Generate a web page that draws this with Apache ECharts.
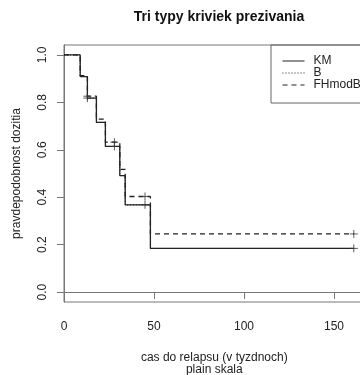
<!DOCTYPE html>
<html>
<head>
<meta charset="utf-8">
<script src="https://cdn.jsdelivr.net/npm/echarts@6/dist/echarts.min.js"></script>
<style>
html,body{margin:0;padding:0;background:#fff;}
#c{width:360px;height:375px;}
</style>
</head>
<body>
<div id="c"></div>
<script>
// Event times (weeks) and step values for each survival curve
const times = [0, 9, 13, 18, 23, 31, 34, 48, 161];
const kmVals = [1, 0.909, 0.818, 0.716, 0.614, 0.491, 0.368, 0.184, 0.184];
const bVals = [1, 0.909, 0.818, 0.716, 0.614, 0.491, 0.368, 0.184, 0.184];
const fhVals = [1, 0.913, 0.826, 0.729, 0.632, 0.517, 0.403, 0.245, 0.245];
// Censored times and curve values at those times
const censTimes = [13, 28, 45, 161];
const kmCens = [0.818, 0.614, 0.368, 0.184];
const fhCens = [0.826, 0.632, 0.403, 0.245];
// Tick labels
const xTicks = [0, 50, 100, 150];
const yTicks = [0, 0.2, 0.4, 0.6, 0.8, 1.0];

const FONT = 'Liberation Sans, Arial, sans-serif';
const pair = (xs, ys) => xs.map((x, i) => [x, ys[i]]);
const plus = 'path://M5,0L5,10M0,5L10,5';

const chart = echarts.init(document.getElementById('c'), null, {renderer: 'canvas'});
chart.setOption({
  animation: false,
  backgroundColor: '#fff',
  title: {
    text: 'Tri typy kriviek prezivania',
    left: 214, top: 5, textAlign: 'center',
    textStyle: {fontFamily: FONT, fontSize: 14, fontWeight: 'bold', color: '#111'}
  },
  grid: {left: 64, top: 45, right: -4.6, height: 257, outerBoundsMode: 'none', containLabel: false,
    show: true, borderColor: '#777', borderWidth: 1, backgroundColor: 'transparent'},
  legend: {
    data: ['KM', 'B', 'FHmodB'],
    orient: 'vertical', left: 271, top: 45,
    borderColor: '#666', borderWidth: 1, borderRadius: 0,
    padding: [10, 30, 12, 11],
    itemWidth: 22, itemHeight: 12, itemGap: 0,
    selectedMode: false,
    itemStyle: {color: 'transparent', borderColor: 'transparent', borderWidth: 0, opacity: 0},
    lineStyle: {width: 1},
    textStyle: {fontFamily: FONT, fontSize: 12, color: '#222', padding: [0, 0, 0, 4]}
  },
  xAxis: {
    type: 'value', min: 0, max: 167,
    name: 'cas do relapsu (v tyzdnoch)\nplain skala',
    nameLocation: 'middle', nameGap: 50,
    nameTextStyle: {fontFamily: FONT, fontSize: 12, color: '#222', lineHeight: 12},
    axisLine: {show: true, lineStyle: {color: '#777'}},
    axisTick: {show: true, length: 7, lineStyle: {color: '#777'}, customValues: xTicks},
    axisLabel: {fontFamily: FONT, fontSize: 12, color: '#222', margin: 19, customValues: xTicks},
    splitLine: {show: false}
  },
  yAxis: {
    type: 'value', min: -0.042, max: 1.042,
    name: 'pravdepodobnost dozitia',
    nameLocation: 'middle', nameGap: 41, nameRotate: 90,
    nameTextStyle: {fontFamily: FONT, fontSize: 12, color: '#222'},
    axisLine: {show: true, lineStyle: {color: '#777'}},
    axisTick: {show: true, length: 7, lineStyle: {color: '#777'}, customValues: yTicks},
    axisLabel: {fontFamily: FONT, fontSize: 12, color: '#222', margin: 15, rotate: 90,
      customValues: yTicks, formatter: v => v.toFixed(1)},
    splitLine: {show: false}
  },
  series: [
    {name: 'KM', type: 'line', step: 'end', symbol: 'none', data: pair(times, kmVals),
     lineStyle: {color: '#222', width: 1.3, type: 'solid'}, itemStyle: {color: '#222'}, z: 3},
    {name: 'B', type: 'line', step: 'end', symbol: 'none', data: pair(times, bVals),
     lineStyle: {color: '#222', width: 1, type: [1, 2]}, itemStyle: {color: '#222'}, z: 2},
    {name: 'FHmodB', type: 'line', step: 'end', symbol: 'none', data: pair(times, fhVals),
     lineStyle: {color: '#222', width: 1.3, type: [5, 4]}, itemStyle: {color: '#222'}, z: 4},
    {name: 'KMcens', type: 'scatter', symbol: plus, symbolSize: 8, data: pair(censTimes, kmCens),
     itemStyle: {color: 'transparent', borderColor: '#333', borderWidth: 1}, z: 5},
    {name: 'FHcens', type: 'scatter', symbol: plus, symbolSize: 8, data: pair(censTimes, fhCens),
     itemStyle: {color: 'transparent', borderColor: '#333', borderWidth: 1}, z: 5}
  ]
});
</script>
</body>
</html>
